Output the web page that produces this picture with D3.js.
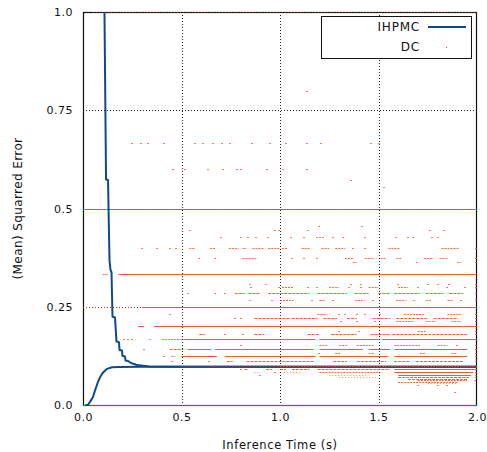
<!DOCTYPE html>
<html><head><meta charset="utf-8">
<script src="https://cdn.jsdelivr.net/npm/d3@7"></script>
<style>
body{margin:0;background:#fff}
svg{display:block}
text{font-family:"DejaVu Sans",sans-serif;fill:#111}
</style>
</head><body>
<svg id="c" width="487" height="452"></svg>
<script>
// ---------- data ----------
const xTicks = [0, 0.5, 1, 1.5, 2];
const xTickLabels = ["0.0", "0.5", "1.0", "1.5", "2.0"];
const yTicks = [0, 0.25, 0.5, 0.75, 1];
const yTickLabels = ["0.0", "0.25", "0.5", "0.75", "1.0"];
const seriesNames = ["IHPMC", "DC"];

// IHPMC: upper and lower error bound [time s, error]
const ihpmcUpper = [[0.109,1.0],[0.117,0.574],[0.127,0.5725],[0.1345,0.369],[0.1396,0.3435],[0.1447,0.338],
  [0.1497,0.225],[0.1624,0.2226],[0.170,0.1616],[0.1827,0.160],[0.1853,0.140],[0.198,0.1387],[0.2005,0.1247],
  [0.2132,0.1234],[0.2157,0.1132],[0.2284,0.112],[0.2437,0.1069],[0.274,0.1018],[0.335,0.098],[0.45,0.0975],[2.0,0.0975]];
const ihpmcLower = [[0.012,0.0],[0.025,0.0],[0.042,0.013],[0.051,0.021],[0.059,0.034],[0.068,0.047],[0.076,0.059],
  [0.088,0.072],[0.102,0.083],[0.122,0.092],[0.147,0.096],[0.181,0.097],[0.3,0.0975],[2.0,0.0975]];

// DC: runs of samples on an error level [error, t0, t1, density]
const dcRuns = [
  [1.0,0.05,2.0,0.25],[0,0,2.0,1],[0.5,0,2.0,1],
  [0.4,0.54,0.57,.5],[0.4,0.645,0.67,.5],[0.4,0.74,0.79,.5],[0.4,0.81,0.83,.5],[0.4,0.86,0.92,.5],[0.4,0.94,0.995,.5],
  [0.4,1.01,1.035,.5],[0.4,1.11,1.15,.5],[0.4,1.21,1.25,.5],[0.4,1.28,1.33,.5],[0.4,1.55,1.61,.5],[0.4,1.82,1.91,.5],
  [0.375,0.81,0.88,.5],[0.375,1.33,1.37,.5],[0.375,1.43,1.48,.5],[0.375,1.51,1.54,.5],[0.375,1.59,1.62,.5],[0.375,1.73,1.78,.5],[0.375,1.81,1.85,.5],
  [0.3636,1.37,1.39,.5],[0.3636,1.9,1.92,.5],
  [0.3333,0.10,0.13,.5],[0.3333,0.18,2.0,1],
  [0.3,1.01,1.07,.5],[0.3,1.25,1.3,.5],[0.3,1.45,1.5,.5],[0.3,1.6,1.65,.5],
  [0.2857,0.77,0.82,.75],[0.2857,0.84,0.9,.75],[0.2857,0.94,1.15,.75],[0.2857,1.19,1.34,.75],[0.2857,1.38,1.45,.75],
  [0.2857,1.5,1.56,.75],[0.2857,1.58,1.71,.75],[0.2857,1.74,1.83,.75],[0.2857,1.86,1.93,.75],
  [0.2667,1.0,1.07,.5],[0.2667,1.2,1.23,.5],[0.2667,1.38,1.43,.5],[0.2667,1.59,1.64,.5],[0.2667,1.74,1.77,.5],[0.2667,1.85,1.88,.5],
  [0.25,0.0,0.3,.25],[0.25,0.3,2.0,1],
  [0.2308,1.19,1.24,.5],[0.2308,1.63,1.73,.5],[0.2308,1.85,1.92,.5],
  [0.2222,0.87,1.05,.75],[0.2222,1.06,1.19,.75],[0.2222,1.22,1.29,.75],[0.2222,1.34,1.39,.75],[0.2222,1.47,1.56,.75],
  [0.2222,1.59,1.75,.75],[0.2222,1.78,1.9,.75],
  [0.2143,1.59,1.68,.5],[0.2143,1.74,1.79,.5],[0.2143,1.87,1.92,.5],
  [0.2,0.28,0.31,1],[0.2,0.36,2.0,1],
  [0.1875,1.7,1.74,.5],
  [0.1818,0.59,0.62,.75],[0.1818,0.87,0.92,.75],[0.1818,1.14,1.2,.75],[0.1818,1.26,1.39,.75],[0.1818,1.46,1.56,.75],[0.1818,1.57,1.95,.75],
  [0.1667,0.4,0.5,.5],[0.1667,0.51,1.18,1],[0.1667,1.2,1.5,1],[0.1667,1.52,2.0,1],
  [0.1538,1.2,1.24,.5],[0.1538,1.3,1.34,.5],[0.1538,1.39,1.48,.5],[0.1538,1.58,1.71,.5],[0.1538,1.8,1.85,.5],
  [0.1429,0.44,0.51,.75],[0.1429,0.53,0.65,1],[0.1429,0.67,1.17,1],[0.1429,1.2,1.42,1],[0.1429,1.45,1.56,1],[0.1429,1.58,1.95,1],
  [0.1333,1.28,1.31,.5],[0.1333,1.45,1.48,.5],[0.1333,1.71,1.74,.5],[0.1333,1.87,1.9,.5],
  [0.125,0.45,0.47,.5],[0.125,0.5,0.68,1],[0.125,0.72,1.18,1],[0.125,1.2,1.55,1],[0.125,1.58,1.95,1],
  [0.1111,0.73,0.76,.75],[0.1111,0.83,1.17,.75],[0.1111,1.27,1.34,.75],[0.1111,1.39,1.54,.75],[0.1111,1.58,1.66,.75],[0.1111,1.69,1.93,.75],
  [0.0909,0.82,0.84,.75],[0.0909,0.93,0.96,.75],[0.0909,1.0,1.03,.75],[0.0909,1.06,1.15,.75],[0.0909,1.19,1.56,.75],[0.0909,1.58,2.0,1],
  [0.0833,0.87,0.9,.25],[0.0833,1.02,1.1,.25],[0.0833,1.2,1.5,.5],[0.0833,1.58,1.98,1],
  [0.0769,1.25,1.45,.25],[0.0769,1.6,1.97,1],
  [0.0714,1.3,1.5,.25],[0.0714,1.6,1.96,.75],
  [0.0667,1.65,1.95,.75],[0.0625,1.7,1.95,.5],[0.0588,1.6,1.9,.5],[0.0556,1.75,1.9,.25]
];
// runs drawn over the IHPMC line
const dcRunsOnTop = [[0.1,0.5,1.0,.25],[0.1,1.0,2.0,.5]];

// DC: isolated samples [error, [times]]
const dcDots = [
  [0.8,[1.137]],
  [0.6667,[0.249,0.294,0.33,0.411,0.569,0.609,0.66,0.706,0.746,0.858,0.949,1.03,1.137,1.208,1.462,1.503]],
  [0.6,[0.457,0.518,0.635,0.711,0.782,0.802,0.934,1.015,1.137]],
  [0.5714,[1.36]],[0.5556,[1.528]],[0.4545,[1.2,1.416]],
  [0.4444,[0.543,0.975,0.995,1.14,1.76,1.83]],
  [0.4286,[0.70,0.80,0.84,0.88,0.94,1.056,1.12,1.19,1.205,1.22,1.27,1.32,1.43,1.59,1.65,1.675,1.77,1.80]],
  [0.4,[0.30,0.376,0.44,0.47,1.37,1.43,1.995]],
  [0.375,[0.59,0.67,1.06,1.12,1.19,1.995]],
  [0.3636,[1.695,1.995]],
  [0.3077,[0.85,0.93,1.36,1.41,1.6,1.75,1.8,1.86,1.995]],
  [0.3,[0.855,0.995,1.14,1.19,1.35,1.41,1.7,1.85,1.94,1.995]],
  [0.2857,[0.535,0.67,0.72,1.995]],
  [0.2667,[0.85,0.96,1.16,1.27,1.47,1.68,1.92,1.995]],
  [0.2308,[0.44,1.3,1.33,1.39,1.43,1.51,1.995]],
  [0.2222,[0.77,0.8,1.995]],
  [0.2143,[1.31,1.39,1.48,1.995]],
  [0.1875,[1.3,1.4,1.995]],
  [0.1818,[0.72,0.81,1.995]],
  [0.1667,[0.21,0.23,0.25,0.34]],
  [0.1538,[0.8,1.9,1.995]],
  [0.1429,[0.31,1.995]],
  [0.1333,[1.2,1.995]],
  [0.125,[0.41,1.995]],
  [0.1111,[0.45,0.64,1.995]],
  [0.0909,[0.8]],
  [0.0833,[0.975,1.995]],
  [0.0769,[0.9,1.995]],
  [0.0714,[1.995]],
  [0.0625,[1.99]],
  [0.05,[1.85,1.7,1.8]],[0.034,[1.89]]
];

// ---------- drawing ----------
const svg = d3.select("#c");
const L = 83, R = 477, T = 12, B = 405;
const x = d3.scaleLinear().domain([0, 2]).range([L, R]);
const y = d3.scaleLinear().domain([0, 1]).range([B, T]);
const red = "#ff4010", blue = "#0b4b8c";
const rowY = v => Math.round(y(v)) + 0.5;

svg.append("rect").attr("width",487).attr("height",452).attr("fill","#fff");

// grid layer
const gridLayer = svg.append("g").attr("id","grid");
gridLayer.selectAll("line.gx").data(xTicks.slice(1,-1)).enter().append("line").attr("class","gx")
  .attr("x1", d => Math.round(x(d))+0.5).attr("x2", d => Math.round(x(d))+0.5)
  .attr("y1", T).attr("y2", B)
  .attr("stroke", "#222").attr("stroke-width",1).attr("stroke-dasharray","1,2");
gridLayer.selectAll("line.gy").data(yTicks.slice(1,-1)).enter().append("line").attr("class","gy")
  .attr("y1", d => rowY(d)).attr("y2", d => rowY(d))
  .attr("x1", L).attr("x2", R)
  .attr("stroke", "#222").attr("stroke-width",1).attr("stroke-dasharray","1,2");

// frame
svg.append("rect").attr("x",L+0.5).attr("y",T+0.5).attr("width",R-L-1).attr("height",B-T)
  .attr("fill","none").attr("stroke","#111").attr("stroke-width",1.2);

// axes labels
const xAxis = d3.axisBottom(x).tickValues(xTicks).tickFormat((d,i)=>xTickLabels[i]).tickSize(0).tickPadding(8);
const gx = svg.append("g").attr("transform",`translate(0,${B})`).call(xAxis);
gx.select(".domain").remove();
gx.selectAll("text").attr("font-size",11).attr("letter-spacing","0.5px").attr("font-family","DejaVu Sans").attr("fill","#111");

const yAxis = d3.axisLeft(y).tickValues(yTicks).tickFormat((d,i)=>yTickLabels[i]).tickSize(0).tickPadding(10);
const gy = svg.append("g").attr("transform",`translate(${L},0)`).call(yAxis);
gy.select(".domain").remove();
gy.selectAll("text").attr("font-size",11).attr("letter-spacing","0.5px").attr("font-family","DejaVu Sans").attr("fill","#111");

// DC runs
const dashFor = d => d === 1 ? null : d === 0.75 ? "3,1" : d === 0.5 ? "2,1" : "1,2";
const opFor = d => d === 1 ? 0.88 : d === 0.75 ? 0.85 : d === 0.5 ? 0.8 : 0.65;
function drawRuns(parent, runs){
  const g = parent.append("g");
  runs.forEach(d => {
    g.append("line")
      .attr("x1", x(d[1])).attr("x2", Math.max(x(d[2]), x(d[1])+2))
      .attr("y1", rowY(d[0])).attr("y2", rowY(d[0]))
      .attr("stroke", red).attr("stroke-width",1)
      .attr("stroke-dasharray", dashFor(d[3])).attr("stroke-opacity", opFor(d[3]));
  });
}
drawRuns(svg, dcRuns);

const dotData = dcDots.flatMap(([e, ts]) => ts.map(t => [t, e]));
svg.append("g").selectAll("rect.dot").data(dotData).enter().append("rect").attr("class","dot")
  .attr("x", d => Math.round(x(d[0]))-1).attr("y", d => Math.round(y(d[1])))
  .attr("width",2).attr("height",1).attr("fill",red).attr("fill-opacity",0.7);

// IHPMC
const line = d3.line().x(d => x(d[0])).y(d => y(d[1]));
[ihpmcUpper, ihpmcLower].forEach(s => {
  svg.append("path").datum(s).attr("d", line).attr("fill","none")
    .attr("stroke", blue).attr("stroke-width",2).attr("stroke-linejoin","round");
});
drawRuns(svg, dcRunsOnTop);

// axis titles
svg.append("text").attr("x",(L+R)/2).attr("y",449).attr("text-anchor","middle")
  .attr("font-size",11.5).attr("letter-spacing","0.6px").text("Inference Time (s)");
svg.append("text").attr("transform",`translate(22,${(T+B)/2}) rotate(-90)`).attr("text-anchor","middle")
  .attr("font-size",12).attr("letter-spacing","0.4px").text("(Mean) Squarred Error");

// legend
const lg = svg.append("g");
lg.append("rect").attr("x",321.5).attr("y",16.5).attr("width",150).attr("height",42)
  .attr("fill","#fff").attr("stroke","#111").attr("stroke-width",1);
lg.append("text").attr("x",420).attr("y",31).attr("text-anchor","end").attr("font-size",12).attr("letter-spacing","0.8px").text(seriesNames[0]);
lg.append("text").attr("x",420).attr("y",51).attr("text-anchor","end").attr("font-size",12).attr("letter-spacing","0.8px").text(seriesNames[1]);
lg.append("line").attr("x1",428).attr("x2",466).attr("y1",27).attr("y2",27).attr("stroke",blue).attr("stroke-width",2);
lg.append("rect").attr("x",446).attr("y",47).attr("width",1).attr("height",1).attr("fill",red);
</script>
</body></html>
